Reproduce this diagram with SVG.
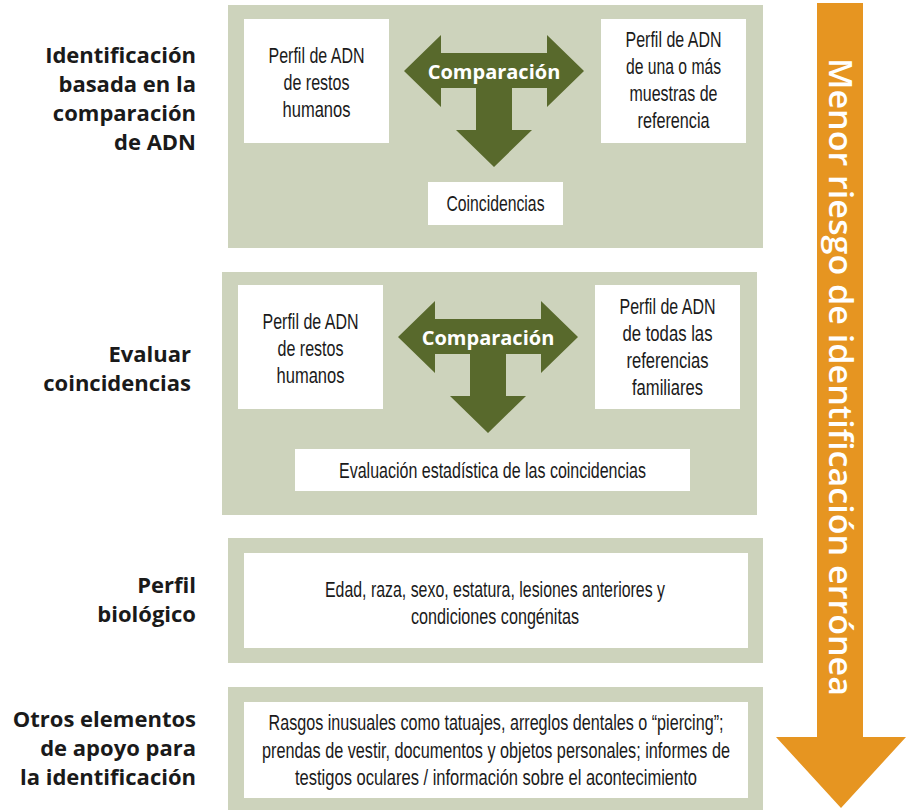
<svg xmlns="http://www.w3.org/2000/svg" width="911" height="811" viewBox="0 0 911 811">
<style>
.panel{fill:#CDD3BC}
.box{fill:#FFFFFF}
.arrow{fill:#58692C}
.risk-arrow{fill:#E69521}
.t{font-family:"Liberation Sans Narrow","Liberation Sans",Arial,sans-serif;font-size:22px;fill:#1A1A1A;text-anchor:middle}
.lbl{font-family:"Open Sans","Noto Sans","Liberation Sans",sans-serif;font-weight:700;font-size:22px;fill:#1A1A1A;text-anchor:end}
.cmp{font-family:"Open Sans","Noto Sans","Liberation Sans",sans-serif;font-weight:700;font-size:20px;fill:#FFFFFF;text-anchor:middle}
.risk{font-family:"Open Sans","Noto Sans","Liberation Sans",sans-serif;font-weight:600;font-size:32px;fill:#FFFFFF;text-anchor:middle}
</style>
<defs>
<path id="cmpArrow" d="M404,71 L441,35 L441,53 L547,53 L547,35 L584,71 L547,107 L547,88 L512,88 L512,130 L532,130 L494,167 L456,130 L476,130 L476,88 L441,88 L441,107 Z"/>
</defs>
<rect x="0" y="0" width="911" height="811" fill="#FFFFFF"/>

<g id="panel-adn">
<rect class="panel" x="228" y="5" width="535" height="243"/>
<text class="lbl" x="196" y="63">Identificación</text>
<text class="lbl" x="196" y="92">basada en la</text>
<text class="lbl" x="196" y="121">comparación</text>
<text class="lbl" x="196" y="150">de ADN</text>
</g>
<g id="node-restos-1">
<rect class="box" x="244" y="19" width="145" height="124"/>
<text class="t" x="316.5" y="63" textLength="96" lengthAdjust="spacingAndGlyphs">Perfil de ADN</text>
<text class="t" x="316.5" y="90" textLength="66" lengthAdjust="spacingAndGlyphs">de restos</text>
<text class="t" x="316.5" y="117" textLength="68" lengthAdjust="spacingAndGlyphs">humanos</text>
</g>
<g id="node-referencia-1">
<rect class="box" x="601" y="19" width="145" height="124"/>
<text class="t" x="673.5" y="47" textLength="96" lengthAdjust="spacingAndGlyphs">Perfil de ADN</text>
<text class="t" x="673.5" y="74" textLength="95" lengthAdjust="spacingAndGlyphs">de una o más</text>
<text class="t" x="673.5" y="101" textLength="88" lengthAdjust="spacingAndGlyphs">muestras de</text>
<text class="t" x="673.5" y="128" textLength="72" lengthAdjust="spacingAndGlyphs">referencia</text>
</g>
<g id="node-coincidencias">
<rect class="box" x="428" y="182" width="135" height="43"/>
<text class="t" x="495.5" y="211" textLength="98" lengthAdjust="spacingAndGlyphs">Coincidencias</text>
</g>

<g id="panel-evaluar">
<rect class="panel" x="222" y="272" width="535" height="243"/>
<text class="lbl" x="191" y="362">Evaluar</text>
<text class="lbl" x="191" y="391">coincidencias</text>
</g>
<g id="node-restos-2">
<rect class="box" x="238" y="285" width="145" height="124"/>
<text class="t" x="310.5" y="329" textLength="96" lengthAdjust="spacingAndGlyphs">Perfil de ADN</text>
<text class="t" x="310.5" y="356" textLength="66" lengthAdjust="spacingAndGlyphs">de restos</text>
<text class="t" x="310.5" y="383" textLength="68" lengthAdjust="spacingAndGlyphs">humanos</text>
</g>
<g id="node-familiares">
<rect class="box" x="595" y="285" width="145" height="124"/>
<text class="t" x="667.5" y="314" textLength="96" lengthAdjust="spacingAndGlyphs">Perfil de ADN</text>
<text class="t" x="667.5" y="341" textLength="90" lengthAdjust="spacingAndGlyphs">de todas las</text>
<text class="t" x="667.5" y="368" textLength="82" lengthAdjust="spacingAndGlyphs">referencias</text>
<text class="t" x="667.5" y="395" textLength="71" lengthAdjust="spacingAndGlyphs">familiares</text>
</g>
<g id="node-estadistica">
<rect class="box" x="295" y="449" width="395" height="42"/>
<text class="t" x="492.5" y="478" textLength="307" lengthAdjust="spacingAndGlyphs">Evaluación estadística de las coincidencias</text>
</g>

<g id="panel-biologico">
<rect class="panel" x="228" y="538" width="535" height="125"/>
<text class="lbl" x="196" y="593">Perfil</text>
<text class="lbl" x="196" y="622">biológico</text>
</g>
<g id="node-biologico">
<rect class="box" x="244" y="553" width="504" height="95"/>
<text class="t" x="495" y="597" textLength="340" lengthAdjust="spacingAndGlyphs">Edad, raza, sexo, estatura, lesiones anteriores y</text>
<text class="t" x="495" y="624" textLength="168" lengthAdjust="spacingAndGlyphs">condiciones congénitas</text>
</g>

<g id="panel-otros">
<rect class="panel" x="228" y="687" width="535" height="123"/>
<text class="lbl" x="196" y="727">Otros elementos</text>
<text class="lbl" x="196" y="756">de apoyo para</text>
<text class="lbl" x="196" y="785">la identificación</text>
</g>
<g id="node-otros">
<rect class="box" x="244" y="702" width="504" height="96"/>
<text class="t" x="496" y="730" textLength="455" lengthAdjust="spacingAndGlyphs">Rasgos inusuales como tatuajes, arreglos dentales o “piercing”;</text>
<text class="t" x="496" y="758" textLength="468" lengthAdjust="spacingAndGlyphs">prendas de vestir, documentos y objetos personales; informes de</text>
<text class="t" x="496" y="785" textLength="402" lengthAdjust="spacingAndGlyphs">testigos oculares / información sobre el acontecimiento</text>
</g>

<g id="connectors">
<use href="#cmpArrow" class="arrow"/>
<text class="cmp" x="494" y="79">Comparación</text>
<use href="#cmpArrow" class="arrow" transform="translate(-6,266)"/>
<text class="cmp" x="488" y="345">Comparación</text>
</g>

<g id="risk-scale">
<polygon class="risk-arrow" points="817,3 863,3 863,737 906,737 841,808 776,737 817,737"/>
<text class="risk" transform="translate(829,377) rotate(90)" x="0" y="0" textLength="638" lengthAdjust="spacingAndGlyphs">Menor riesgo de identificación errónea</text>
</g>
</svg>
